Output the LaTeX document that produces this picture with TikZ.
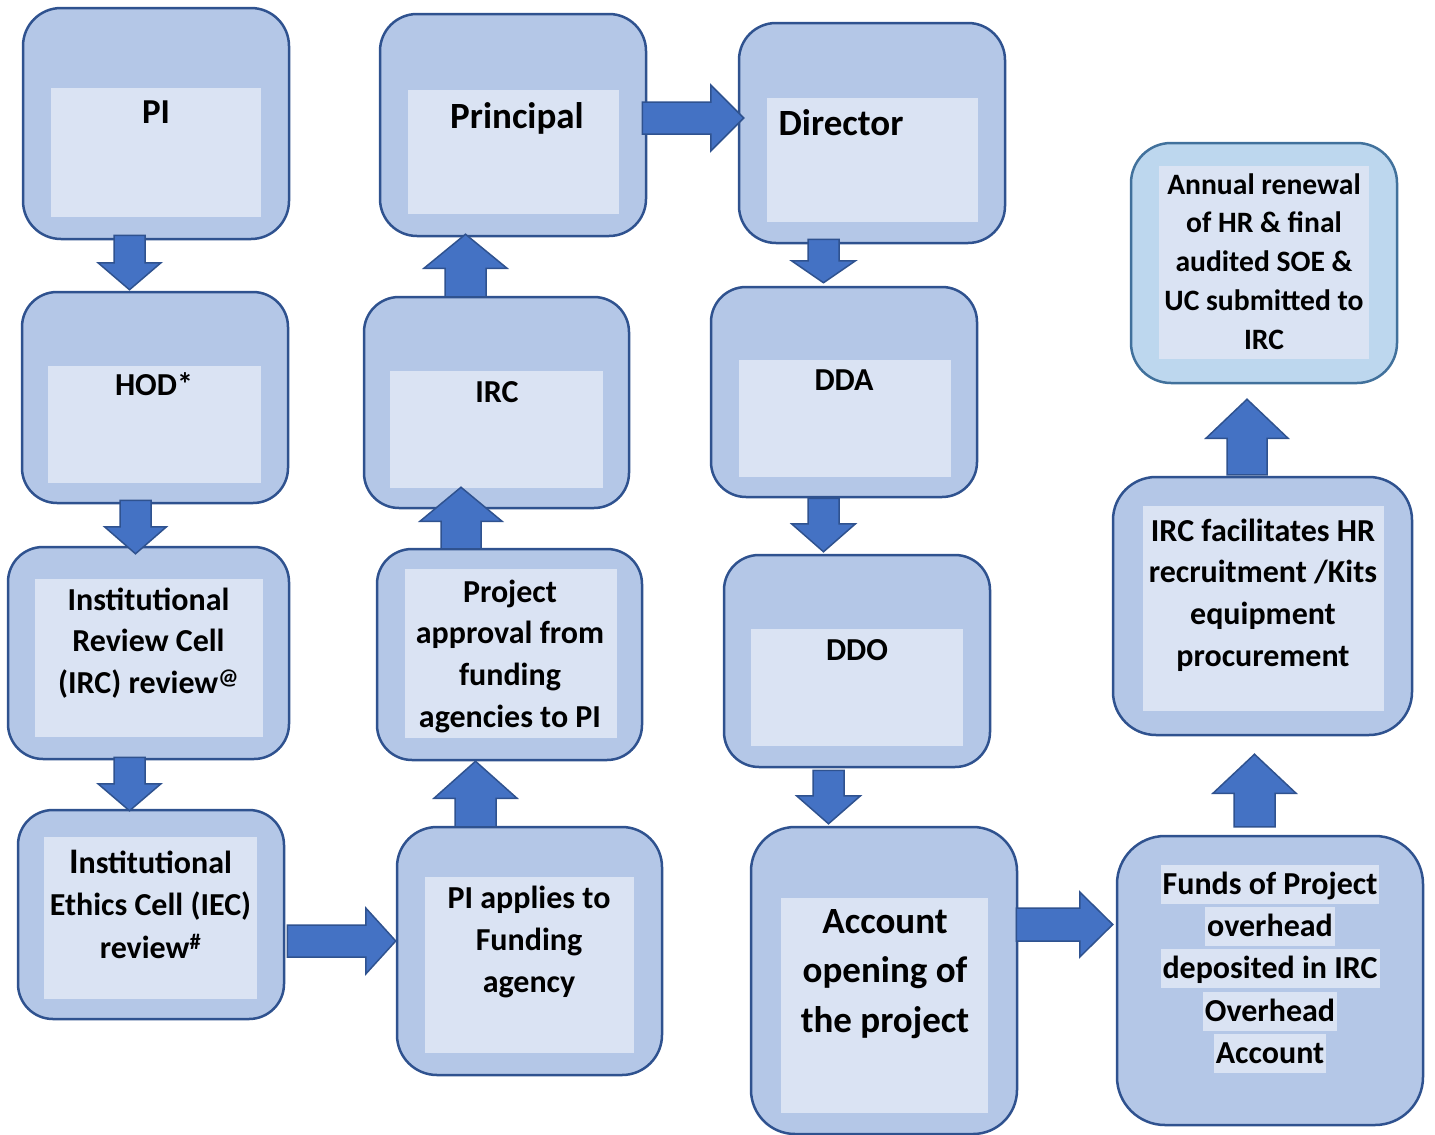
\documentclass[tikz,border=0pt]{standalone}
\usepackage{fontspec}
\setmainfont{Carlito}
\usetikzlibrary{calc}
\definecolor{outc}{HTML}{B4C7E7}
\definecolor{innc}{HTML}{DAE3F3}
\definecolor{bordc}{HTML}{2F528F}
\definecolor{arrc}{HTML}{4472C4}
\definecolor{annc}{HTML}{BDD7EE}
\definecolor{annb}{HTML}{41719C}
\newcommand\fs[2]{\fontsize{#1}{#2}\selectfont\bfseries}
% block arrows: #1 start, #2 tip, #3 shaft half width, #4 head half width, #5 head length
\newcommand\arrD[5]{\draw[arr] let \p1=#1, \p2=#2 in (\x1-#3pt,\y1) -- (\x1+#3pt,\y1) -- (\x1+#3pt,\y2+#5pt) -- (\x1+#4pt,\y2+#5pt) -- (\x1,\y2) -- (\x1-#4pt,\y2+#5pt) -- (\x1-#3pt,\y2+#5pt) -- cycle;}
\newcommand\arrU[5]{\draw[arr] let \p1=#1, \p2=#2 in (\x1-#3pt,\y1) -- (\x1+#3pt,\y1) -- (\x1+#3pt,\y2-#5pt) -- (\x1+#4pt,\y2-#5pt) -- (\x1,\y2) -- (\x1-#4pt,\y2-#5pt) -- (\x1-#3pt,\y2-#5pt) -- cycle;}
\newcommand\arrR[5]{\draw[arr] let \p1=#1, \p2=#2 in (\x1,\y1-#3pt) -- (\x2-#5pt,\y1-#3pt) -- (\x2-#5pt,\y1-#4pt) -- (\x2,\y1) -- (\x2-#5pt,\y1+#4pt) -- (\x2-#5pt,\y1+#3pt) -- (\x1,\y1+#3pt) -- cycle;}
\begin{document}
\begin{tikzpicture}[x=1pt,y=-1pt,
  outer/.style={draw=bordc, fill=outc, line width=2.5pt, inner sep=0pt},
  innerbox/.style={fill=innc, draw=none, inner sep=0pt},
  txt/.style={inner sep=0pt, align=center, text=black, anchor=north},
  hl/.style={fill=innc, inner xsep=2pt, inner ysep=0pt, text height=29pt, text depth=10pt, anchor=base, font=\fs{32}{42}},
  arr/.style={fill=arrc, draw=bordc, line width=1.5pt, line join=miter}]
\useasboundingbox (0,0) rectangle (1435,1135);
% outer boxes
\node[outer, rounded corners=38pt, minimum width=266pt, minimum height=231pt] (pi) at (156,123.5) {};
\node[outer, rounded corners=35pt, minimum width=266pt, minimum height=211pt] (hod) at (155,397.5) {};
\node[outer, rounded corners=35pt, minimum width=281pt, minimum height=212pt] (irc1) at (148.5,653) {};
\node[outer, rounded corners=35pt, minimum width=266pt, minimum height=209pt] (iec) at (151,914.5) {};
\node[outer, rounded corners=40pt, minimum width=265pt, minimum height=248pt] (apply) at (529.5,951) {};
\node[outer, rounded corners=35pt, minimum width=265pt, minimum height=211pt] (appr) at (509.5,654.5) {};
\node[outer, rounded corners=35pt, minimum width=265pt, minimum height=211pt] (irc2) at (496.5,402.5) {};
\node[outer, rounded corners=37pt, minimum width=266pt, minimum height=222pt] (prin) at (513,125) {};
\node[outer, rounded corners=37pt, minimum width=266pt, minimum height=220pt] (dir) at (872,133) {};
\node[outer, rounded corners=35pt, minimum width=266pt, minimum height=210pt] (dda) at (844,392) {};
\node[outer, rounded corners=35pt, minimum width=266pt, minimum height=212pt] (ddo) at (857,661) {};
\node[outer, rounded corners=44pt, minimum width=266pt, minimum height=307pt] (acc) at (884,980.5) {};
\node[outer, rounded corners=48pt, minimum width=306pt, minimum height=289pt] (funds) at (1270,980.5) {};
\node[outer, rounded corners=43pt, minimum width=299pt, minimum height=258pt] (fac) at (1262.5,606) {};
\node[outer, draw=annb, fill=annc, rounded corners=40pt, minimum width=266pt, minimum height=240pt] (ann) at (1264,263) {};
% inner boxes
\node[innerbox, minimum width=210pt, minimum height=129pt] (pi-in) at (156,152.5) {};
\node[innerbox, minimum width=213pt, minimum height=117pt] (hod-in) at (154.5,424.5) {};
\node[innerbox, minimum width=228pt, minimum height=158pt] (irc1-in) at (149,658) {};
\node[innerbox, minimum width=213pt, minimum height=162pt] (iec-in) at (150.5,918) {};
\node[innerbox, minimum width=209pt, minimum height=176pt] (apply-in) at (529.5,965) {};
\node[innerbox, minimum width=212pt, minimum height=169pt] (appr-in) at (511,653.5) {};
\node[innerbox, minimum width=213pt, minimum height=117pt] (irc2-in) at (496.5,429.5) {};
\node[innerbox, minimum width=211pt, minimum height=124pt] (prin-in) at (513.5,152) {};
\node[innerbox, minimum width=211pt, minimum height=124pt] (dir-in) at (872.5,160) {};
\node[innerbox, minimum width=212pt, minimum height=117pt] (dda-in) at (845,418.5) {};
\node[innerbox, minimum width=212pt, minimum height=117pt] (ddo-in) at (857,687.5) {};
\node[innerbox, minimum width=207pt, minimum height=215pt] (acc-in) at (884.5,1005.5) {};
\node[innerbox, minimum width=241pt, minimum height=205pt] (fac-in) at (1263.5,608.5) {};
\node[innerbox, minimum width=210pt, minimum height=193pt] (ann-in) at (1264,262.5) {};
% texts (y = first baseline - 36)
\node[txt, font=\fs{35}{42}] (pi-t) at (156,123-36) {\rule{0pt}{36pt}PI};
\node[txt, font=\fs{32}{42}] (hod-t) at (154,395-36) {\rule{0pt}{36pt}HOD*};
\node[txt, font=\fs{32}{41.5}] (irc1-t) at (148.5,610-36) {\rule{0pt}{36pt}Institutional\\Review Cell\\(IRC) review\textsuperscript{@}};
\node[txt, font=\fs{32}{42.5}] (iec-t) at (150.5,873-36) {\rule{0pt}{36pt}{\fontsize{36}{42}\selectfont I}nstitutional\\Ethics Cell (IEC)\\review\textsuperscript{\#}};
\node[txt, font=\fs{32}{42}] (apply-t) at (529,908-36) {\rule{0pt}{36pt}PI applies to\\Funding\\agency};
\node[txt, font=\fs{32}{41.7}] (appr-t) at (510,602-36) {\rule{0pt}{36pt}Project\\approval from\\funding\\agencies to PI};
\node[txt, font=\fs{32}{42}] (irc2-t) at (497,402-36) {\rule{0pt}{36pt}IRC};
\node[txt, font=\fs{37}{45}] (prin-t) at (517,128-36) {\rule{0pt}{36pt}Principal};
\node[txt, font=\fs{37}{45}] (dir-t) at (841,135-36) {\rule{0pt}{36pt}Director};
\node[txt, font=\fs{32}{42}] (dda-t) at (844,390-36) {\rule{0pt}{36pt}DDA};
\node[txt, font=\fs{32}{42}] (ddo-t) at (857,660-36) {\rule{0pt}{36pt}DDO};
\node[txt, font=\fs{37}{49.5}] (acc-t) at (885,933-36) {\rule{0pt}{36pt}Account\\opening of\\the project};
\node[txt, font=\fs{32}{41.7}] (fac-t) at (1263,541-36) {\rule{0pt}{36pt}IRC facilitates HR\\recruitment /Kits\\equipment\\procurement};
\node[txt, font=\fs{29.6}{38.7}] (ann-t) at (1264,194-36) {\rule{0pt}{36pt}Annual renewal\\of HR \& final\\audited SOE \&\\UC submitted to\\IRC};
\node[hl] (funds-1) at (1270,894) {Funds of Project};
\node[hl] (funds-2) at (1270,936) {overhead};
\node[hl] (funds-3) at (1270,978) {deposited in IRC};
\node[hl] (funds-4) at (1270,1021) {Overhead};
\node[hl] (funds-5) at (1270,1063) {Account};
% block arrows
\arrD{($(pi.south)+(-26.5,-5)$)}{($(hod.north)+(0,-1)$)}{15.5}{31.5}{27}
\arrD{($(hod.south)+(-19.5,-4)$)}{($(irc1.north)+(0,8)$)}{15.5}{31}{27}
\arrD{($(irc1.south)+(-19,-3)$)}{($(iec.north)+(0,2)$)}{15.5}{31.5}{27}
\arrR{($(iec.east)+(2,26.5)$)}{($(apply.west)+(0,0)$)}{16}{33}{30}
\arrU{($(apply.north)+(-54,1)$)}{($(appr.south)+(0,0)$)}{20.5}{41.5}{37}
\arrU{($(appr.north)+(-48.5,1)$)}{($(irc2.south)+(0,-22)$)}{20}{41}{34}
\arrU{($(irc2.north)+(-31,1)$)}{($(prin.south)+(0,-3)$)}{20.5}{41.5}{34}
\arrR{($(prin.east)+(-5,-7)$)}{($(dir.west)+(6,0)$)}{16}{33}{33}
\arrD{($(dir.south)+(-48.5,-5)$)}{($(dda.north)+(0,-3)$)}{15.5}{32}{22}
\arrD{($(dda.south)+(-20.5,0)$)}{($(ddo.north)+(0,-2)$)}{15.5}{32}{28}
\arrD{($(ddo.south)+(-28.5,2)$)}{($(acc.north)+(0,-2)$)}{15.5}{32}{28}
\arrR{($(acc.east)+(-2,-56)$)}{($(funds.west)+(-3,0)$)}{16.5}{32.5}{33}
\arrU{($(funds.north)+(-15.5,-8)$)}{($(fac.south)+(0,18)$)}{20.5}{41.5}{39}
\arrU{($(fac.north)+(-15.5,-1)$)}{($(ann.south)+(0,15)$)}{20}{41}{39}
\end{tikzpicture}
\end{document}
